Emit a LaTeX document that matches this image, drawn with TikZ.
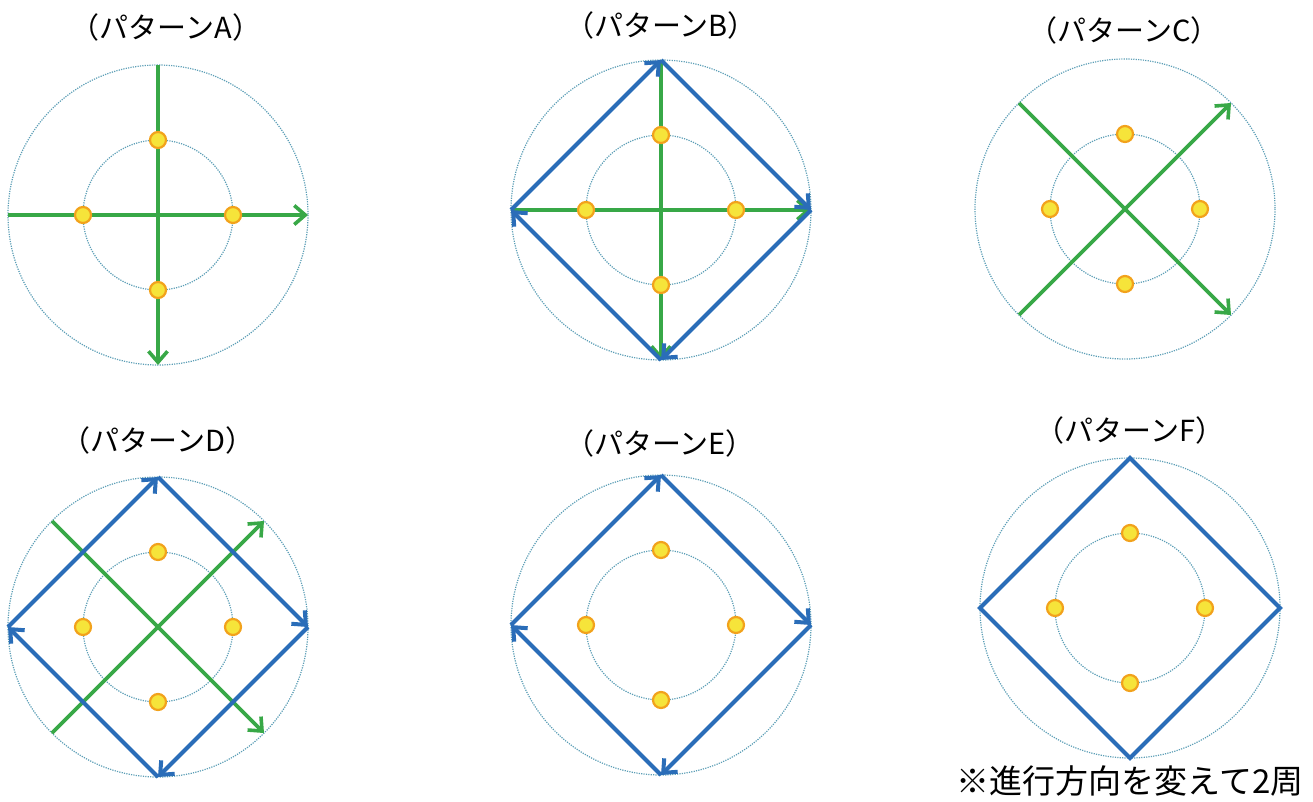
\documentclass[tikz,border=0pt]{standalone}
\usepackage{fontspec}
\setmainfont{Noto Sans CJK JP}
\usetikzlibrary{arrows.meta,calc}
\definecolor{GuideBlue}{HTML}{5C9EB6}
\definecolor{PathGreen}{HTML}{38A847}
\definecolor{PathBlue}{HTML}{2A6DB8}
\definecolor{SpotFill}{HTML}{F6E43A}
\definecolor{SpotEdge}{HTML}{F2A21C}

% field: outer and inner guide circles plus rim points
\newcommand{\fieldbase}[3]{%
  \coordinate (#1c) at (#2,#3);
  \draw[guide] (#1c) circle[radius=150];
  \draw[guide] (#1c) circle[radius=75];
  \coordinate (#1n) at ($(#1c)+(0,-150)$);
  \coordinate (#1e) at ($(#1c)+(150,0)$);
  \coordinate (#1s) at ($(#1c)+(0,150)$);
  \coordinate (#1w) at ($(#1c)+(-150,0)$);
  \coordinate (#1ne) at ($(#1c)+(106,-106)$);
  \coordinate (#1se) at ($(#1c)+(106,106)$);
  \coordinate (#1sw) at ($(#1c)+(-106,106)$);
  \coordinate (#1nw) at ($(#1c)+(-106,-106)$);
}
% four spots on the inner circle
\newcommand{\fieldspots}[1]{%
  \node[spot] (#1p1) at ($(#1c)+(0,-75)$) {};
  \node[spot] (#1p2) at ($(#1c)+(75,0)$) {};
  \node[spot] (#1p3) at ($(#1c)+(0,75)$) {};
  \node[spot] (#1p4) at ($(#1c)+(-75,0)$) {};
}

\begin{document}
\begin{tikzpicture}[x=1pt,y=-1pt,
    guide/.style={GuideBlue,line width=1.2pt,dash pattern=on 1.2pt off 1.2pt},
    greenway/.style={PathGreen,line width=3.6pt,
      -{Straight Barb[length=11pt,width=19pt]}},
    blueway/.style={PathBlue,line width=4pt,
      -{Straight Barb[length=11pt,width=19pt]}},
    blueline/.style={PathBlue,line width=4pt},
    spot/.style={circle,fill=SpotFill,draw=SpotEdge,line width=2.2pt,
      minimum size=16pt,inner sep=0pt},
    title/.style={font=\fontsize{29}{34}\selectfont,inner sep=0pt}]
  \useasboundingbox (0,0) rectangle (1313,801);

  % pattern A
  \node[title] (tA) at (166,27) {（パターンA）};
  \fieldbase{A}{158}{215}
  \draw[greenway] (Aw) -- (Ae);
  \draw[greenway] (An) -- (As);
  \fieldspots{A}

  % pattern B
  \node[title] (tB) at (661,25) {（パターンB）};
  \fieldbase{B}{661}{210}
  \draw[greenway] (Bw) -- (Be);
  \draw[greenway] (Bn) -- (Bs);
  \draw[blueway] (Bw) -- (Bn);
  \draw[blueway] (Bn) -- (Be);
  \draw[blueway] (Be) -- (Bs);
  \draw[blueway] (Bs) -- (Bw);
  \fieldspots{B}

  % pattern C
  \node[title] (tC) at (1124,30) {（パターンC）};
  \fieldbase{C}{1125}{209}
  \draw[greenway] (Csw) -- (Cne);
  \draw[greenway] (Cnw) -- (Cse);
  \fieldspots{C}

  % pattern D
  \node[title] (tD) at (158,440) {（パターンD）};
  \fieldbase{D}{158}{627}
  \draw[greenway] (Dsw) -- (Dne);
  \draw[greenway] (Dnw) -- (Dse);
  \draw[blueway] (Dw) -- (Dn);
  \draw[blueway] (Dn) -- (De);
  \draw[blueway] (De) -- (Ds);
  \draw[blueway] (Ds) -- (Dw);
  \fieldspots{D}

  % pattern E
  \node[title] (tE) at (660,443) {（パターンE）};
  \fieldbase{E}{661}{625}
  \draw[blueway] (Ew) -- (En);
  \draw[blueway] (En) -- (Ee);
  \draw[blueway] (Ee) -- (Es);
  \draw[blueway] (Es) -- (Ew);
  \fieldspots{E}

  % pattern F
  \node[title] (tF) at (1130,430) {（パターンF）};
  \fieldbase{F}{1130}{608}
  \draw[blueline] (Fn) -- (Fe) -- (Fs) -- (Fw) -- cycle;
  \fieldspots{F}
  \node[font=\fontsize{33}{38}\selectfont,inner sep=0pt] (note) at (1130,781)
    {※進行方向を変えて2周};
\end{tikzpicture}
\end{document}
